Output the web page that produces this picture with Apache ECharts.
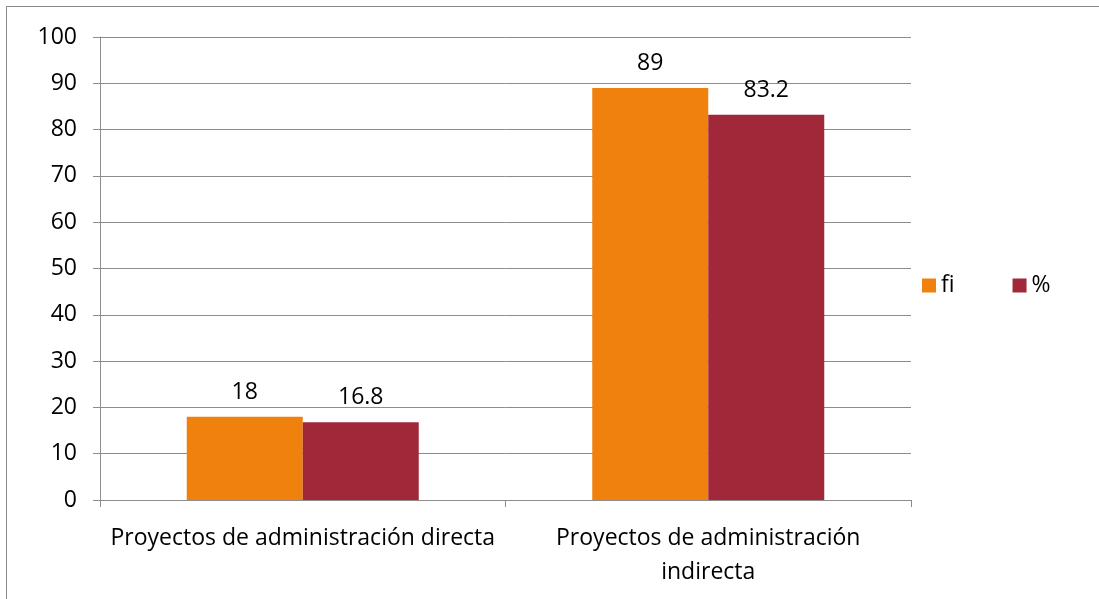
<!DOCTYPE html>
<html>
<head>
<meta charset="utf-8">
<script src="https://cdn.jsdelivr.net/npm/echarts@6/dist/echarts.min.js"></script>
<style>
  html, body { margin: 0; padding: 0; background: #fff; overflow: hidden; }
  .frame { position: absolute; left: 6px; top: 6px; width: 1200px; height: 700px; border: 1px solid #8a8a8a; }
  #chart { position: absolute; left: 0; top: 0; width: 1099px; height: 599px; }
</style>
</head>
<body>
<div class="frame"></div>
<div id="chart"></div>
<script>
const categories = ['Proyectos de administración directa', 'Proyectos de administración\nindirecta']
const fiValues = [18, 89]
const pctValues = [16.8, 83.2]
const seriesNames = ['fi', '%']

const myChart = echarts.init(document.getElementById('chart'))
const font = 'Open Sans, Liberation Sans, sans-serif'
const fontSize = 23
const axisColor = '#8c8c8c'
const label = {
  show: true,
  position: 'top',
  color: '#000',
  fontSize,
  fontFamily: font,
  distance: 13
}

const option = {
  animation: false,
  textStyle: { fontFamily: font },
  legend: {
    show: true,
    left: 922,
    top: 274,
    padding: 0,
    itemWidth: 14,
    itemHeight: 14,
    itemGap: 58,
    itemTextGap: 4,
    icon: 'rect',
    textStyle: { color: '#000', fontSize, fontFamily: font }
  },
  grid: {
    left: 100,
    right: 188,
    top: 37,
    bottom: 99
  },
  xAxis: {
    type: 'category',
    data: categories,
    axisLine: { lineStyle: { color: axisColor, width: 1 } },
    axisTick: { show: true, length: 7, lineStyle: { color: axisColor } },
    axisLabel: {
      color: '#000',
      fontSize,
      fontFamily: font,
      margin: 21,
      lineHeight: 34,
      interval: 0
    }
  },
  yAxis: {
    type: 'value',
    min: 0,
    max: 100,
    interval: 10,
    axisLine: { show: true, lineStyle: { color: axisColor, width: 1 } },
    axisTick: { show: true, length: 7, lineStyle: { color: axisColor } },
    axisLabel: { color: '#000', fontSize, fontFamily: font, margin: 23 },
    splitLine: { show: true, lineStyle: { color: axisColor, width: 1 } }
  },
  series: [
    {
      name: seriesNames[0],
      type: 'bar',
      data: fiValues,
      barWidth: 116,
      barGap: '0%',
      itemStyle: { color: '#f0810d' },
      label
    },
    {
      name: seriesNames[1],
      type: 'bar',
      data: pctValues,
      barWidth: 116,
      itemStyle: { color: '#a02838' },
      label
    }
  ]
}
myChart.setOption(option)
</script>
</body>
</html>
